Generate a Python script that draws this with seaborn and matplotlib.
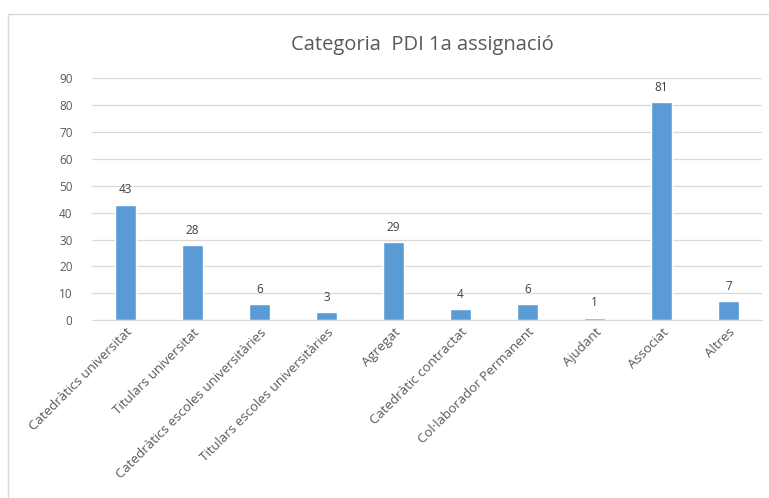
import pandas as pd
import seaborn as sns
import matplotlib.pyplot as plt
from matplotlib.patches import Rectangle

# Chart data
categories = ['Catedràtics universitat', 'Titulars universitat',
              'Catedràtics escoles universitàries', 'Titulars escoles universitàries',
              'Agregat', 'Catedràtic contractat', 'Col·laborador Permanent',
              'Ajudant', 'Associat', 'Altres']
counts = [43, 28, 6, 3, 29, 4, 6, 1, 81, 7]
y_ticks = [0, 10, 20, 30, 40, 50, 60, 70, 80, 90]

df = pd.DataFrame({'categoria': categories, 'n': counts})

sns.set_style('white')
plt.rcParams['font.family'] = ['Open Sans', 'DejaVu Sans']

fig = plt.figure(figsize=(7.69, 4.98), dpi=100)
ax = fig.add_axes([0.1196, 0.357, 0.8714, 0.486])

sns.barplot(x='categoria', y='n', data=df, color='#5B9BD5', width=0.31,
            saturation=1, ax=ax)

# value labels
for c in ax.containers:
    ax.bar_label(c, padding=6, fontsize=8.5, color='#404040')

ax.set_ylim(0, 90)
ax.set_yticks(y_ticks)
ax.yaxis.grid(True, color='#d9d9d9', linewidth=0.9)
ax.set_axisbelow(True)
ax.set_xlabel('')
ax.set_ylabel('')
ax.tick_params(axis='y', labelsize=8.5, labelcolor='#595959', length=0, pad=14)
ax.tick_params(axis='x', labelsize=9.5, labelcolor='#595959', length=0, pad=4)
plt.setp(ax.get_xticklabels(), rotation=45, ha='right', rotation_mode='anchor')
for s in ['top', 'right', 'left']:
    ax.spines[s].set_visible(False)
ax.spines['bottom'].set_color('#d9d9d9')

fig.text(0.549, 0.91, 'Categoria  PDI 1a assignació', ha='center', va='center',
         fontsize=14.5, color='#595959')

# chart frame
fig.patches.append(Rectangle((8 / 769, -0.1), 1.2, 0.1 + 1 - 14 / 498,
                             transform=fig.transFigure, fill=False,
                             edgecolor='#d9d9d9', linewidth=1))

fig.savefig('out.png', dpi=100, facecolor='white')
